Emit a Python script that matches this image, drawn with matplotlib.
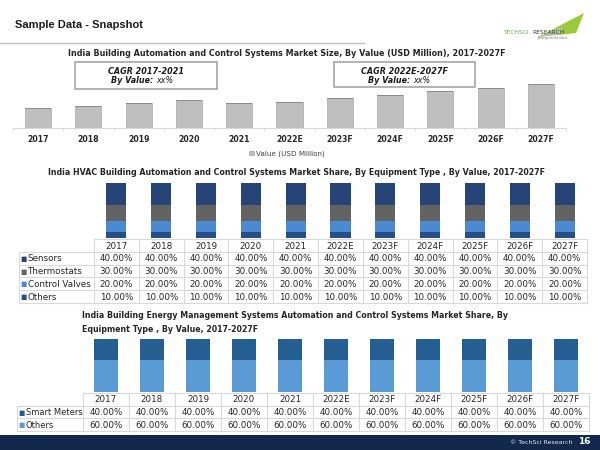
import matplotlib.pyplot as plt
from matplotlib.patches import Rectangle, Polygon

plt.rcParams['font.family'] = ['DejaVu Sans']

years = ['2017', '2018', '2019', '2020', '2021', '2022E', '2023F', '2024F', '2025F', '2026F', '2027F']

# market size, USD million (no axis shown)
market_value = [410, 450, 500, 555, 500, 530, 595, 660, 740, 810, 890]

# HVAC share by equipment type (%)
hvac_labels = ['Sensors', 'Thermostats', 'Control Valves', 'Others']
hvac_sensors = [40.0, 40.0, 40.0, 40.0, 40.0, 40.0, 40.0, 40.0, 40.0, 40.0, 40.0]
hvac_thermostats = [30.0, 30.0, 30.0, 30.0, 30.0, 30.0, 30.0, 30.0, 30.0, 30.0, 30.0]
hvac_valves = [20.0, 20.0, 20.0, 20.0, 20.0, 20.0, 20.0, 20.0, 20.0, 20.0, 20.0]
hvac_others = [10.0, 10.0, 10.0, 10.0, 10.0, 10.0, 10.0, 10.0, 10.0, 10.0, 10.0]
hvac_colors = ['#264478', '#636363', '#4A8AD0', '#264F88']

# BEMS share by equipment type (%)
bems_labels = ['Smart Meters', 'Others']
bems_meters = [40.0, 40.0, 40.0, 40.0, 40.0, 40.0, 40.0, 40.0, 40.0, 40.0, 40.0]
bems_others = [60.0, 60.0, 60.0, 60.0, 60.0, 60.0, 60.0, 60.0, 60.0, 60.0, 60.0]
bems_colors = ['#255E91', '#5B9BD5']

W, H = 600, 450
fig = plt.figure(figsize=(6, 4.5), dpi=100)


def fbox(x0, y0, x1, y1):
    # pixel box (top-left origin) -> figure rect
    return [x0 / W, 1 - y1 / H, (x1 - x0) / W, (y1 - y0) / H]


def fx(x):
    return x / W


def fy(y):
    return 1 - y / H


# ---- slide header ----
fig.text(fx(15), fy(25), 'Sample Data - Snapshot', family='Liberation Sans', fontsize=8,
         fontweight='bold', color='#1a1a1a', va='center', ha='left')
fig.add_artist(plt.Line2D([0, fx(364)], [fy(43), fy(43)], color='#BFBFBF', lw=1))

# logo
fig.add_artist(Polygon([(fx(538), fy(37)), (fx(584), fy(13)), (fx(576), fy(33))],
                       closed=True, transform=fig.transFigure, color='#9BC93C', lw=0))
fig.add_artist(Polygon([(fx(538), fy(37)), (fx(562), fy(27)), (fx(560), fy(34))],
                       closed=True, transform=fig.transFigure, color='#B7C4CF', lw=0, alpha=0.8))
fig.text(fx(503), fy(32), 'TECHSCI', fontsize=4.3, color='#6AA84F', va='center', ha='left')
fig.text(fx(532), fy(32), 'RESEARCH', fontsize=4.3, color='#404040', va='center', ha='left')
fig.text(fx(568), fy(38), 'Jumping into the future', fontsize=1.9, color='#606060', va='center', ha='right',
         style='italic')

# ---- chart 1: market size ----
fig.text(fx(287), fy(53), 'India Building Automation and Control Systems Market Size, By Value (USD Million), 2017-2027F',
         fontsize=5.8, fontweight='bold', color='#262626', ha='center', va='center')

ax1 = fig.add_axes(fbox(13, 60, 566, 128))
xs = list(range(len(years)))
bars = ax1.bar(xs, market_value, width=0.52, color='#BFBFBF', edgecolor='#A6A6A6', linewidth=0.5,
               label='Value (USD Million)')
cap = 22
ax1.bar(xs, [cap] * len(xs), bottom=[v - cap for v in market_value], width=0.52, color='#8C8C8C', linewidth=0)
ax1.set_xlim(-0.5, 10.5)
ax1.set_ylim(0, 1360)
for s in ['top', 'right', 'left']:
    ax1.spines[s].set_visible(False)
ax1.spines['bottom'].set_color('#D9D9D9')
ax1.set_yticks([])
ax1.set_xticks(xs, years, fontsize=5.6, fontweight='bold', color='#262626')
ax1.set_xticks([i - 0.5 for i in range(len(years) + 1)], minor=True)
ax1.tick_params(axis='x', which='major', length=0, pad=5)
ax1.tick_params(axis='x', which='minor', length=2, color='#D9D9D9')
ax1.patch.set_alpha(0)

fig.legend([bars], ['Value (USD Million)'], loc='center', bbox_to_anchor=(fx(287), fy(154)),
           frameon=False, fontsize=5.2, handlelength=0.6, handleheight=0.6, handletextpad=0.3,
           labelcolor='#404040')

# CAGR boxes
for (x0, y0, x1, y1, t1, split) in [(75, 62, 217, 89, 'CAGR 2017-2021', 156),
                                      (334, 62, 475, 87, 'CAGR 2022E-2027F', 413)]:
    fig.add_artist(Rectangle((fx(x0), fy(y1)), (x1 - x0) / W, (y1 - y0) / H, transform=fig.transFigure,
                             facecolor='white', edgecolor='#A6A6A6', lw=1.2))
    cx = (x0 + x1) / 2
    fig.text(fx(cx), fy(y0 + 9.5), t1, fontsize=5.8, fontweight='bold', style='italic',
             color='#1a1a1a', ha='center', va='center')
    fig.text(fx(split), fy(y0 + 18.5), 'By Value: ', fontsize=5.8, fontweight='bold', style='italic',
             color='#1a1a1a', ha='right', va='center')
    fig.text(fx(split), fy(y0 + 18.5), 'xx%', fontsize=5.8, style='italic',
             color='#1a1a1a', ha='left', va='center')


def draw_table(box, label_w, labels, colors, rows, fs, label_fs):
    ax = fig.add_axes(fbox(*box))
    n = len(rows) + 1
    left = -0.5 - label_w
    ax.set_xlim(left, 10.5)
    ax.set_ylim(n, 0)
    ax.axis('off')
    lc = '#D9D9D9'
    for k in range(len(years) + 1):
        ax.plot([k - 0.5, k - 0.5], [0, n], color=lc, lw=0.8, clip_on=False)
    ax.plot([left, left], [1, n], color=lc, lw=0.8, clip_on=False)
    ax.plot([-0.5, 10.5], [0, 0], color=lc, lw=0.8, clip_on=False)
    for r in range(1, n + 1):
        ax.plot([left, 10.5], [r, r], color=lc, lw=0.8, clip_on=False)
    for i, yr in enumerate(years):
        ax.text(i, 0.55, yr, ha='center', va='center', fontsize=fs, color='#262626')
    for r, (lab, col, vals) in enumerate(zip(labels, colors, rows)):
        yy = r + 1.55
        ax.text(left + 0.04, yy, '\u25a0', color=col, fontsize=fs - 1.5, ha='left', va='center')
        ax.text(left + 0.19, yy, lab, color='#262626', fontsize=label_fs, ha='left', va='center')
        for i, v in enumerate(vals):
            ax.text(i, yy, f'{v:.2f}%', ha='center', va='center', fontsize=fs, color='#262626')


# ---- chart 2: HVAC share ----
fig.text(fx(297), fy(173), 'India HVAC Building Automation and Control Systems Market Share, By Equipment Type , By Value, 2017-2027F',
         fontsize=5.7, fontweight='bold', color='#262626', ha='center', va='center')
ax2 = fig.add_axes(fbox(94, 183, 587, 238))
hvac_series = [hvac_sensors, hvac_thermostats, hvac_valves, hvac_others]
bottom = [0.0] * len(years)
for vals, col in zip(hvac_series[::-1], hvac_colors[::-1]):
    ax2.bar(xs, vals, bottom=bottom, width=0.45, color=col, linewidth=0)
    bottom = [b + v for b, v in zip(bottom, vals)]
ax2.set_xlim(-0.5, 10.5)
ax2.set_ylim(0, 100)
ax2.axis('off')
draw_table((19, 239, 587, 303), (94 - 19) / 44.8, hvac_labels, hvac_colors, hvac_series, 6.3, 6.3)

# ---- chart 3: BEMS share ----
fig.text(fx(82), fy(316), 'India Building Energy Management Systems Automation and Control Systems Market Share, By',
         fontsize=5.7, fontweight='bold', color='#262626', ha='left', va='center')
fig.text(fx(82), fy(330), 'Equipment Type , By Value, 2017-2027F',
         fontsize=5.7, fontweight='bold', color='#262626', ha='left', va='center')
ax3 = fig.add_axes(fbox(83, 339, 589, 392))
bems_series = [bems_meters, bems_others]
bottom = [0.0] * len(years)
for vals, col in zip(bems_series[::-1], bems_colors[::-1]):
    ax3.bar(xs, vals, bottom=bottom, width=0.52, color=col, linewidth=0)
    bottom = [b + v for b, v in zip(bottom, vals)]
ax3.set_xlim(-0.5, 10.5)
ax3.set_ylim(0, 100)
ax3.axis('off')
draw_table((17, 393, 589, 431), (83 - 17) / 46.0, bems_labels, bems_colors, bems_series, 6.3, 6.0)

# ---- footer ----
fig.add_artist(Rectangle((0, 0), 1, 15 / H, transform=fig.transFigure, color='#13294B', lw=0))
fig.text(fx(572), fy(443), '\u00a9 TechSci Research', fontsize=4.5, color='#E6E6E6', ha='right', va='center')
fig.text(fx(584), fy(442), '16', fontsize=6.5, fontweight='bold', color='white', ha='center', va='center')

fig.savefig('out.png', dpi=100)
plt.close('all')
